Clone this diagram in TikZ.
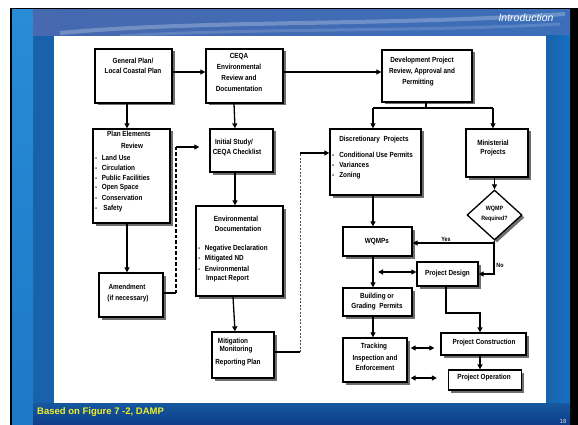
\documentclass[tikz,border=0pt]{standalone}
\usepackage{fontspec}
\setmainfont{Liberation Sans}
\newfontfamily\narrowfont[FakeStretch=0.86]{Liberation Sans}
\usetikzlibrary{arrows.meta,shapes.geometric,shadows,calc}
\definecolor{slideblue}{RGB}{24,98,172}
\definecolor{stripblue}{RGB}{40,140,214}
\definecolor{stripblue2}{RGB}{30,120,200}
\definecolor{topA}{RGB}{70,105,175}
\definecolor{topB}{RGB}{60,110,185}
\definecolor{botA}{RGB}{22,88,160}
\definecolor{botB}{RGB}{14,62,135}
\definecolor{rightblue}{RGB}{22,112,192}
\definecolor{capyellow}{RGB}{240,240,40}
\definecolor{shadowgray}{RGB}{110,110,110}
\tikzset{
  box/.style={draw=black, line width=1.3pt, fill=white, inner sep=0pt,
    drop shadow={shadow xshift=2.5pt, shadow yshift=-2.5pt, fill=shadowgray, opacity=1}},
  tx/.style={font=\narrowfont\fontsize{7.4}{8}\selectfont\bfseries, inner sep=0pt},
  txs/.style={font=\narrowfont\fontsize{6.2}{7}\selectfont\bfseries, inner sep=0pt},
  arr/.style={line width=1.3pt, -{Triangle[length=5pt,width=5pt]}},
  darr/.style={line width=1.3pt, {Triangle[length=5pt,width=5pt]}-{Triangle[length=5pt,width=5pt]}},
  ln/.style={line width=1.3pt},
  thickdash/.style={line width=1.5pt, dash pattern=on 3.5pt off 2pt},
  thindash/.style={line width=0.5pt, dash pattern=on 2pt off 1.5pt, draw=black!70}
}
\begin{document}
\begin{tikzpicture}[x=1pt,y=-1pt]
\useasboundingbox (0,0) rectangle (578,425);
% ---------- slide background ----------
\fill[white] (0,0) rectangle (578,425);
\fill[black] (10,8) rectangle (578,425);
\fill[slideblue] (12,10) rectangle (570,425);
\shade[top color=stripblue, bottom color=stripblue2] (12,10) rectangle (33,425);
\shade[left color=topA, right color=topB] (33,10) rectangle (570,36);
\draw[white, opacity=0.25, line width=4pt] (60,33) .. controls (200,20) and (380,26) .. (565,14);
\draw[white, opacity=0.15, line width=3pt] (120,36) .. controls (250,28) and (420,32) .. (560,24);
\shade[left color=slideblue, right color=rightblue] (546,36) rectangle (570,403);
\shade[top color=botA, bottom color=botB] (33,403) rectangle (570,425);
\fill[white] (54,36) rectangle (546,403);
\node[font=\fontsize{10.5}{12}\selectfont\itshape, text=white, inner sep=0pt] (title) at (526,18) {Introduction};
\node[font=\fontsize{9.5}{11}\selectfont\bfseries, text=capyellow, inner sep=0pt, anchor=west] (caption) at (37,412) {Based on Figure 7 -2, DAMP};
\node[font=\fontsize{6}{7}\selectfont, text=black!15!white, inner sep=0pt] (pagenum) at (563,421) {18};
% ---------- boxes ----------
\node[box, minimum width=77pt, minimum height=54pt] (gp) at (133.5,76) {};
\node[box, minimum width=77pt, minimum height=54pt] (ceqa) at (244.5,76) {};
\node[box, minimum width=90pt, minimum height=52pt] (dev) at (427,76) {};
\node[box, minimum width=77pt, minimum height=94pt] (pe) at (131.5,176) {};
\node[box, minimum width=64pt, minimum height=44pt] (amend) at (131,295) {};
\node[box, minimum width=63pt, minimum height=43pt] (is) at (241.5,150.5) {};
\node[box, minimum width=87pt, minimum height=90pt] (ed) at (239.5,251) {};
\node[box, minimum width=62pt, minimum height=46pt] (mit) at (243,355) {};
\node[box, minimum width=91pt, minimum height=66pt] (disc) at (375.5,162) {};
\node[box, minimum width=62pt, minimum height=48pt] (minis) at (497,153) {};
\node[box, diamond, minimum width=55pt, minimum height=50pt] (dia) at (494.5,215) {};
\node[box, minimum width=69pt, minimum height=29pt] (wq) at (377.5,241.5) {};
\node[box, minimum width=61pt, minimum height=24pt] (pd) at (447.5,274) {};
\node[box, minimum width=69pt, minimum height=28pt] (bg) at (377.5,302) {};
\node[box, minimum width=64pt, minimum height=44pt] (tr) at (375,360) {};
\node[box, minimum width=85pt, minimum height=22pt] (pc) at (483.5,344) {};
\node[box, minimum width=73pt, minimum height=20pt] (po) at (485,380) {};
% ---------- texts ----------
\node[tx] (gp1) at (133,61) {General Plan/};
\node[tx] (gp2) at (133,71) {Local Coastal Plan};
\node[tx] (ce1) at (239,57) {CEQA};
\node[tx] (ce2) at (239,67) {Environmental};
\node[tx] (ce3) at (239,77.5) {Review and};
\node[tx] (ce4) at (239,89) {Documentation};
\node[tx] (dv1) at (422,61) {Development Project};
\node[tx] (dv2) at (422,72) {Review, Approval and};
\node[tx] (dv3) at (418,83) {Permitting};
\node[tx] (pe1) at (129,134) {Plan Elements};
\node[tx] (pe2) at (132,146) {Review};
\node[tx, anchor=west] (pe3) at (95,158) {-\hspace{4.5pt}Land Use};
\node[tx, anchor=west] (pe4) at (95,168) {-\hspace{4.5pt}Circulation};
\node[tx, anchor=west] (pe5) at (95,178) {-\hspace{4.5pt}Public Facilities};
\node[tx, anchor=west] (pe6) at (95,188) {-\hspace{4.5pt}Open Space};
\node[tx, anchor=west] (pe7) at (95,198) {-\hspace{4.5pt}Conservation};
\node[tx, anchor=west] (pe8) at (95,208.5) {-\hspace{6pt}Safety};
\node[tx] (am1) at (127,287) {Amendment};
\node[tx] (am2) at (128,299) {(if necessary)};
\node[tx] (is1) at (234,143) {Initial Study/};
\node[tx] (is2) at (237,153) {CEQA Checklist};
\node[tx] (ed1) at (236,219) {Environmental};
\node[tx] (ed2) at (238,229) {Documentation};
\node[tx, anchor=west] (ed3) at (198,249) {-\hspace{4.5pt}Negative Declaration};
\node[tx, anchor=west] (ed4) at (198,259) {-\hspace{4.5pt}Mitigated ND};
\node[tx, anchor=west] (ed5) at (198,269) {-\hspace{4.5pt}Environmental};
\node[tx, anchor=west] (ed6) at (206,279) {Impact Report};
\node[tx] (mi1) at (233,342) {Mitigation};
\node[tx] (mi2) at (236,350) {Monitoring};
\node[tx] (mi3) at (238,363) {Reporting Plan};
\node[tx] (ds1) at (374,140) {Discretionary\ \ Projects};
\node[tx, anchor=west] (ds2) at (332,155) {-\hspace{5pt}Conditional Use Permits};
\node[tx, anchor=west] (ds3) at (332,165) {-\hspace{5pt}Variances};
\node[tx, anchor=west] (ds4) at (332,176) {-\hspace{5pt}Zoning};
\node[tx] (mn1) at (493,143) {Ministerial};
\node[tx] (mn2) at (493,153) {Projects};
\node[txs] (dq1) at (494.5,208.5) {WQMP};
\node[txs] (dq2) at (494.5,219) {Required?};
\node[tx] (wq1) at (377,241.5) {WQMPs};
\node[tx] (pd1) at (447.5,273.5) {Project Design};
\node[tx] (bg1) at (377,297) {Building or};
\node[tx] (bg2) at (377,307) {Grading\ \ Permits};
\node[tx] (tr1) at (374,347) {Tracking};
\node[tx] (tr2) at (375,359) {Inspection and};
\node[tx] (tr3) at (375,368) {Enforcement};
\node[tx] (pc1) at (484,343) {Project Construction};
\node[tx] (po1) at (484,378) {Project Operation};
\node[txs] (yes) at (446,239) {Yes};
\node[txs] (no) at (500,265) {No};
% ---------- connectors ----------
\draw[arr] (gp.east |- 0,72) -- (ceqa.west |- 0,72);
\draw[arr] (ceqa.east |- 0,72) -- (dev.west |- 0,72);
\draw[arr] (gp.south -| 127,0) -- (pe.north -| 127,0);
\draw[arr] (ceqa.south -| 234,0) -- (is.north -| 235,0);
\draw[arr] (is.south -| 235,0) -- (ed.north -| 235,0);
\draw[arr] (ed.south -| 233,0) -- (mit.north -| 235,0);
\draw[arr] (pe.south -| 127,0) -- (amend.north -| 127,0);
\coordinate (dA) at (176,293);
\coordinate (dB) at (176,147);
\coordinate (dC) at (300,352);
\coordinate (dD) at (300,153);
\coordinate (split) at (426,108);
\draw[ln] (amend.east |- dA) -- (dA);
\draw[thickdash] (dA) -- (dB);
\draw[arr] (dB) -- ([xshift=-10pt]is.west |- dB);
\draw[ln] (mit.east |- dC) -- (dC);
\draw[thindash] (dC) -- (dD);
\draw[arr] (dD) -- (disc.west |- dD);
\draw[ln] (dev.south -| split) -- (split);
\draw[ln] (split -| 373,0) -- (split -| 493,0);
\draw[arr] (split -| 373,0) -- (disc.north -| 373,0);
\draw[arr] (split -| 493,0) -- (minis.north -| 493,0);
\draw[arr] (minis.south -| dia.north) -- (dia.north);
\coordinate (yn) at (494,243);
\draw[ln] (dia.south) -- (yn);
\draw[arr] (yn) -- (wq.east |- yn);
\draw[arr] (yn) |- (pd.east);
\draw[arr] (disc.south -| 373,0) -- (wq.north -| 373,0);
\draw[arr] (wq.south -| 373,0) -- (bg.north -| 373,0);
\draw[darr] (378,272) -- (pd.west |- 0,272);
\draw[arr] (pd.south -| 446,0) -- (446,313) -| (pc.north -| 480,0);
\draw[arr] (bg.south -| 373,0) -- (tr.north -| 373,0);
\draw[darr] ([xshift=3pt]tr.east |- 0,348) -- ([xshift=-6pt]pc.west |- 0,348);
\draw[darr] ([xshift=3pt]tr.east |- 0,378) -- ([xshift=-11pt]po.west |- 0,378);
\draw[arr] (pc.south -| 480,0) -- (po.north -| 480,0);
\end{tikzpicture}
\end{document}
